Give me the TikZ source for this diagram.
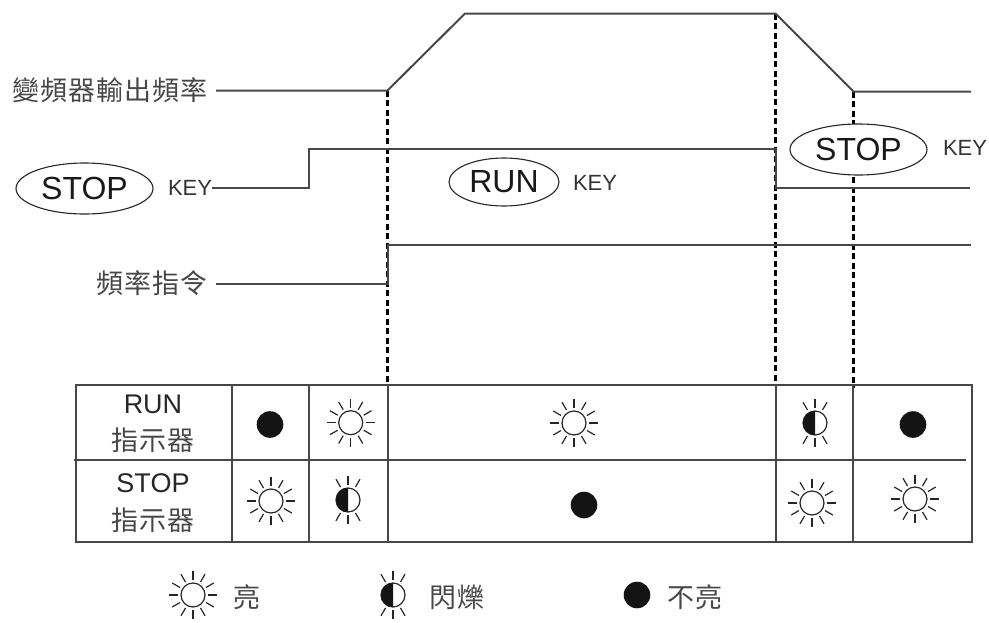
\documentclass[tikz,border=0pt]{standalone}
\usepackage{fontspec}
\setmainfont{Liberation Sans}
\newfontfamily\cjk[LetterSpace=4]{Noto Sans CJK TC}
\usetikzlibrary{shapes.geometric}
\tikzset{
  sig/.style={line width=2pt,draw=black!72,line join=miter},
  tbl/.style={line width=2pt,draw=black!72},
  guide/.style={line width=2.6pt,draw=black,dash pattern=on 6pt off 3.5pt},
  caption/.style={inner sep=0pt,outer sep=0pt,font=\fontsize{27}{27}\cjk,text=black!72},
  latin/.style={inner sep=0pt,outer sep=0pt,font=\fontsize{27}{27}\selectfont,text=black!85},
  keyword/.style={inner sep=0pt,outer sep=0pt,font=\fontsize{22}{22}\selectfont,text=black!80},
  oval/.style={ellipse,draw=black!85,fill=white,line width=1.1pt,inner sep=0pt,font=\fontsize{32}{32}\selectfont,text=black!90},
  ray/.style={line width=1.2pt,draw=black!85}
}
\newcommand{\lamp}[1]{\begin{scope}[shift={(#1)}]
  \draw[ray] (0,0) circle (12);
  \foreach \a in {0,30,...,330}{\draw[ray] (\a:15) -- (\a:24);}
\end{scope}}
\newcommand{\dark}[1]{\fill[black!92] (#1) circle (13.3);}
\newcommand{\blink}[1]{\begin{scope}[shift={(#1)}]
  \draw[ray] (0,0) circle (12);
  \fill[black!92] (0,12) arc (90:270:12) -- cycle;
  \foreach \a in {60,90,120,240,270,300}{\draw[ray] (\a:15) -- (\a:24);}
\end{scope}}
\begin{document}
\begin{tikzpicture}[x=1pt,y=-1pt]
\useasboundingbox (0,0) rectangle (989,622);
% guides
\coordinate (g1t) at (387.5,90.5); \coordinate (g1b) at (387.5,384);
\coordinate (g2t) at (775.5,13.5); \coordinate (g2b) at (775.5,384);
\coordinate (g3t) at (853.5,91.5); \coordinate (g3b) at (853.5,388);
\draw[guide] (g1t) -- (g1b);
\draw[guide] (g2t) -- (g2b);
\draw[guide] (g3t) -- (g3b);
% captions and keys
\node[caption,anchor=east] (fout) at (208,90) {變頻器輸出頻率};
\node[caption,anchor=east] (fcmd) at (208,283) {頻率指令};
\node[oval,minimum width=137pt,minimum height=51pt] (stopa) at (84.5,188.5) {STOP};
\node[keyword,anchor=west] (keya) at (168,188) {KEY};
\node[oval,minimum width=110pt,minimum height=48pt] (runb) at (504,182) {RUN};
\node[keyword,anchor=west] (keyb) at (573,183) {KEY};
\node[oval,minimum width=137pt,minimum height=51pt] (stopc) at (858.5,149.5) {STOP};
\node[keyword,anchor=west] (keyc) at (943,148) {KEY};
% signals
\coordinate (a0) at (216,90.5); \coordinate (a1) at (465,13.5); \coordinate (a2) at (853.5,91.5); \coordinate (a3) at (971,91.5);
\draw[sig] (a0) -- (g1t) -- (a1) -- (g2t) -- (a2) -- (a3);
\coordinate (b1) at (308.5,187.5); \coordinate (b2) at (308.5,148.5); \coordinate (b3) at (775.5,148.5); \coordinate (b4) at (775.5,187.5); \coordinate (b5) at (970,187.5);
\draw[sig] (keya.east |- b1) -- (b1) -- (b2) -- (b3) -- (b4) -- (b5);
\coordinate (c0) at (216,283.5); \coordinate (c1) at (387.5,283.5); \coordinate (c2) at (387.5,244.5); \coordinate (c3) at (971,244.5);
\draw[sig] (c0) -- (c1) -- (c2) -- (c3);
% table
\draw[tbl] (75.5,384.5) rectangle (971.5,541.5);
\draw[tbl] (74,459.5) -- (966,459.5);
\foreach \x in {231.5,308.5,387.5,775.5,852.5}{\draw[tbl] (\x,384.5) -- (\x,541.5);}
\node[latin] (runl) at (153,404) {RUN};
\node[caption] (runc) at (153,440) {指示器};
\node[latin] (stopl) at (153,483) {STOP};
\node[caption] (stopx) at (153,520) {指示器};
% row 1
\dark{270,424.5}
\lamp{350.7,422.7}
\lamp{574,423}
\blink{815,423}
\dark{913,424.5}
% row 2
\lamp{271,501}
\blink{348,500}
\dark{584,505}
\lamp{812,503}
\lamp{915,499}
% legend
\lamp{193,595}
\node[caption] (lon) at (247,597) {亮};
\blink{393,595}
\node[caption] (lbl) at (457,597) {閃爍};
\dark{637,595}
\node[caption] (loff) at (695,597) {不亮};
\end{tikzpicture}
\end{document}
